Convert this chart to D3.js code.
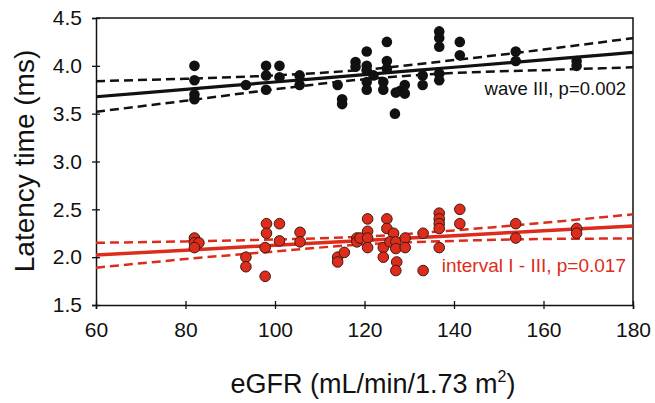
<!DOCTYPE html>
<html>
<head>
<meta charset="utf-8">
<script src="https://cdn.jsdelivr.net/npm/d3@7"></script>
<style>
  body { margin: 0; background: #fff; }
  text { font-family: "Liberation Sans", Arial, Helvetica, sans-serif; }
</style>
</head>
<body>
<svg id="chart" width="655" height="403"></svg>
<script>
// Wave III latency (black)
var waveX = [82, 82, 82, 82, 93.5, 98, 98, 98, 101, 101, 105.5, 105.5,
  114, 115, 115, 118, 118, 120.5, 120.5, 120.5, 120.5, 120.5, 122,
  125, 125, 125, 124.2, 124.2, 126.8, 127, 128, 129, 129, 133, 133,
  136.7, 136.7, 136.7, 136.7, 136.7, 141.3, 141.3, 153.8, 153.8, 167.4, 167.4];
var waveY = [4.0, 3.85, 3.7, 3.65, 3.8, 4.0, 3.9, 3.75, 4.0, 3.88, 3.9, 3.8,
  3.8, 3.65, 3.6, 4.04, 3.99, 4.15, 4.0, 3.95, 3.83, 3.75, 3.9,
  4.25, 4.05, 3.97, 3.83, 3.75, 3.5, 3.72, 3.74, 3.8, 3.71, 3.9, 3.8,
  4.36, 4.29, 4.2, 3.92, 3.85, 4.25, 4.11, 4.15, 4.05, 4.05, 4.0];

// Interval I - III (red)
var intX = [82, 82, 83, 82, 93.5, 93.5, 97.8, 97.8, 98.1, 98.1, 101, 101,
  105.6, 105.6, 114, 114, 115.5, 118.3, 118.3, 119, 120.7, 120.7, 120.7, 120.7,
  125, 125, 126.5, 124.2, 124.2, 125.7, 127, 127, 127.2, 127, 129.1, 129.1,
  133.1, 133.1, 136.7, 136.7, 136.7, 136.7, 136.7, 141.3, 141.3,
  153.8, 153.8, 167.4, 167.4];
var intY = [2.2, 2.15, 2.15, 2.1, 2.0, 1.9, 2.1, 1.8, 2.35, 2.25, 2.35, 2.17,
  2.26, 2.16, 2.0, 1.95, 2.05, 2.2, 2.16, 2.2, 2.4, 2.27, 2.2, 2.1,
  2.4, 2.3, 2.25, 2.1, 2.0, 2.16, 2.16, 2.09, 1.95, 1.86, 2.2, 2.1,
  2.25, 1.86, 2.46, 2.4, 2.35, 2.3, 2.1, 2.5, 2.35,
  2.35, 2.2, 2.3, 2.25];

// regression line and 95% bands, read at these eGFR values
var bandX = [60, 80, 100, 120, 140, 160, 180];
var waveFit = [3.677, 3.754, 3.831, 3.908, 3.985, 4.062, 4.14];
var waveUpper = [3.84, 3.865, 3.90, 3.96, 4.06, 4.17, 4.29];
var waveLower = [3.52, 3.635, 3.755, 3.86, 3.925, 3.955, 3.985];
var intFit = [2.023, 2.073, 2.124, 2.175, 2.225, 2.276, 2.326];
var intUpper = [2.15, 2.165, 2.185, 2.215, 2.28, 2.36, 2.448];
var intLower = [1.89, 1.98, 2.06, 2.135, 2.17, 2.19, 2.195];

var xTicks = [60, 80, 100, 120, 140, 160, 180];
var yTicks = [1.5, 2.0, 2.5, 3.0, 3.5, 4.0, 4.5];

var red = "#dd2c1c";
var margin = {left: 96, right: 633, top: 18, bottom: 305};

var svg = d3.select("#chart");

var x = d3.scaleLinear().domain([60, 180]).range([margin.left, margin.right]),
    y = d3.scaleLinear().domain([1.5, 4.5]).range([margin.bottom, margin.top]);

// frame top / right
svg.append("path")
   .attr("d", "M" + margin.left + "," + margin.top + "H" + margin.right + "V" + margin.bottom)
   .attr("fill", "none").attr("stroke", "#111").attr("stroke-width", 1.5);

// axes
var xAxis = svg.append("g").attr("transform", "translate(0," + margin.bottom + ")")
  .call(d3.axisBottom(x).tickValues(xTicks).tickSize(4).tickPadding(13).tickFormat(d3.format("d")));
var yAxis = svg.append("g").attr("transform", "translate(" + margin.left + ",0)")
  .call(d3.axisLeft(y).tickValues(yTicks).tickSize(4).tickPadding(10).tickFormat(d3.format(".1f")));

[xAxis, yAxis].forEach(function(ax){
  ax.select(".domain").attr("stroke", "#111").attr("stroke-width", 1.5);
  ax.selectAll(".tick line").attr("stroke", "#111").attr("stroke-width", 1.3);
  ax.selectAll("text").attr("font-size", 21).attr("fill", "#111")
    .style("font-family", "'Liberation Sans', Arial, sans-serif");
});
// ticks cross the axis line
xAxis.selectAll(".tick line").attr("y1", -4).attr("y2", 4);
yAxis.selectAll(".tick line").attr("x1", -4).attr("x2", 4);

var line = d3.line().curve(d3.curveMonotoneX);

function drawFit(fit, upper, lower, col, w) {
  svg.append("path").datum(bandX.map((d, i) => [x(d), y(fit[i])]))
     .attr("d", line).attr("fill", "none").attr("stroke", col).attr("stroke-width", w);
  [upper, lower].forEach(function(b){
    svg.append("path").datum(bandX.map((d, i) => [x(d), y(b[i])]))
       .attr("d", line).attr("fill", "none").attr("stroke", col)
       .attr("stroke-width", 2.5).attr("stroke-dasharray", "9,5");
  });
}
drawFit(waveFit, waveUpper, waveLower, "#111", 3.2);
drawFit(intFit, intUpper, intLower, red, 3.5);

svg.append("g").selectAll("circle")
   .data(waveX.map((d, i) => [d, waveY[i]]))
   .enter().append("circle")
   .attr("cx", d => x(d[0])).attr("cy", d => y(d[1]))
   .attr("r", 5.3).attr("fill", "#111");

svg.append("g").selectAll("circle")
   .data(intX.map((d, i) => [d, intY[i]]))
   .enter().append("circle")
   .attr("cx", d => x(d[0])).attr("cy", d => y(d[1]))
   .attr("r", 5.3).attr("fill", red).attr("stroke", "#3a1c14").attr("stroke-width", 1);

// annotations
svg.append("text").attr("x", 626).attr("y", 95).attr("text-anchor", "end")
   .attr("font-size", 18.5).attr("fill", "#111").text("wave III, p=0.002");
svg.append("text").attr("x", 626).attr("y", 271.5).attr("text-anchor", "end")
   .attr("font-size", 19).attr("fill", red).text("interval I - III, p=0.017");

// axis titles
svg.append("text").attr("transform", "translate(34,161) rotate(-90)")
   .attr("text-anchor", "middle").attr("font-size", 28).attr("fill", "#111")
   .text("Latency time (ms)");

var xt = svg.append("text").attr("x", 373).attr("y", 393)
   .attr("text-anchor", "middle").attr("font-size", 27).attr("fill", "#111");
xt.append("tspan").text("eGFR (mL/min/1.73 m");
xt.append("tspan").attr("font-size", 16).attr("dy", -11).text("2");
xt.append("tspan").attr("dy", 11).text(")");
</script>
</body>
</html>
